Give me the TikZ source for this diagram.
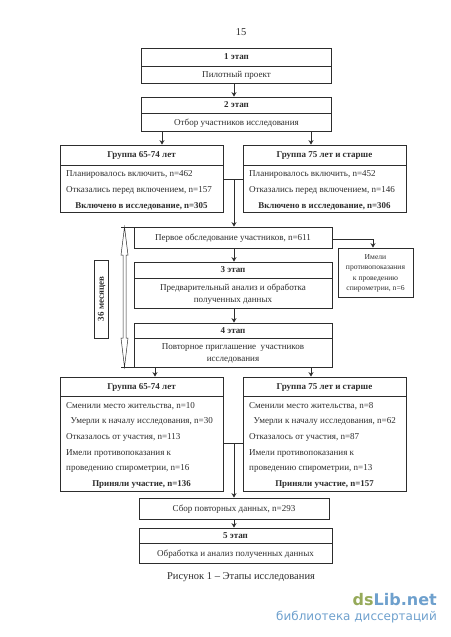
\documentclass[tikz,border=0pt]{standalone}
\usepackage{fontspec}
\setmainfont{Liberation Serif}
\newfontfamily\marksans{DejaVu Sans}
\usepackage{tikz}
\usetikzlibrary{arrows.meta}
\definecolor{ink}{RGB}{45,45,45}
\definecolor{markgreen}{RGB}{150,170,90}
\definecolor{markblue}{RGB}{110,160,205}
\tikzset{
  box/.style={draw=ink,line width=0.8pt,align=center,font=\fontsize{9.05}{12}\selectfont,text=ink,text depth=0pt,inner sep=1pt},
  hdr/.style={box,font=\fontsize{9}{10}\selectfont\bfseries},
  note/.style={box,font=\fontsize{7.6}{10.4}\selectfont},
  rowl/.style={font=\fontsize{9.05}{10}\selectfont,text=ink,anchor=west,inner sep=0pt,yshift=-1.5pt},
  rowb/.style={font=\fontsize{8.9}{10}\selectfont\bfseries,text=ink,inner sep=0pt,yshift=-1.5pt},
  arr/.style={-{Stealth[length=4.5pt,width=5pt]},line width=0.8pt,draw=ink},
  conn/.style={line width=0.8pt,draw=ink},
  hollow/.style={draw=ink,line width=0.5pt,fill=white}
}
\begin{document}
\begin{tikzpicture}[x=1pt,y=-1pt]
\useasboundingbox (0,0) rectangle (450,637);
\node[font=\fontsize{10.5}{12}\selectfont,text=ink,inner sep=0pt] (page) at (241,32) {15};
% stages 1 and 2
\node[hdr,minimum width=190pt,minimum height=18pt] (s1h) at (236.5,57) {1 этап};
\node[box,minimum width=190pt,minimum height=17pt] (s1b) at (236.5,74.5) {Пилотный проект};
\node[hdr,minimum width=190pt,minimum height=16pt] (s2h) at (236.5,105) {2 этап};
\node[box,minimum width=190pt,minimum height=18pt] (s2b) at (236.5,122) {Отбор участников исследования};
\draw[arr] (234,0 |- s1b.south) -- (234,0 |- s2h.north);
% groups at the start
\node[hdr,minimum width=163pt,minimum height=20pt] (g1h) at (141.5,155) {Группа 65-74 лет};
\node[box,minimum width=163pt,minimum height=47pt] (g1b) at (141.5,188.5) {};
\node[hdr,minimum width=163pt,minimum height=20pt] (g2h) at (324.5,155) {Группа 75 лет и старше};
\node[box,minimum width=163pt,minimum height=47pt] (g2b) at (324.5,188.5) {};
\node[rowl] (g1a) at (66,173) {Планировалось включить, n=462};
\node[rowl] (g1c) at (66,188.5) {Отказались перед включением, n=157};
\node[rowb] (g1d) at (141.5,205) {Включено в исследование, n=305};
\node[rowl] (g2a) at (249,173) {Планировалось включить, n=452};
\node[rowl] (g2c) at (249,188.5) {Отказались перед включением, n=146};
\node[rowb] (g2d) at (324.5,205) {Включено в исследование, n=306};
\draw[arr] (162,0 |- s2b.south) -- (162,0 |- g1h.north);
\draw[arr] (311,0 |- s2b.south) -- (311,0 |- g2h.north);
% first examination
\node[box,minimum width=198pt,minimum height=21pt] (first) at (233,237.5) {Первое обследование участников, n=611};
\node[note,minimum width=75pt,minimum height=49pt] (contra) at (375.5,272.5) {Имели\\противопоказания\\к проведению\\спирометрии, n=6};
\coordinate (j1) at (234,179);
\draw[conn] (g1b.east |- j1) -- (g2b.west |- j1);
\draw[arr] (j1) -- (j1 |- first.north);
\draw[arr] (first.east |- 0,239) -| (373,0 |- contra.north);
% stages 3 and 4
\node[hdr,minimum width=198pt,minimum height=16pt] (s3h) at (233,270) {3 этап};
\node[box,minimum width=198pt,minimum height=30pt] (s3b) at (233,293) {Предварительный анализ и обработка\\полученных данных};
\node[hdr,minimum width=198pt,minimum height=15pt] (s4h) at (233,330.5) {4 этап};
\node[box,minimum width=198pt,minimum height=29pt] (s4b) at (233,352.5) {Повторное приглашение~ участников\\исследования};
\draw[arr] (234,0 |- first.south) -- (234,0 |- s3h.north);
\draw[arr] (234,0 |- s3b.south) -- (234,0 |- s4h.north);
% 36 months
\node[hdr,rotate=90,minimum width=78pt,minimum height=14pt] (months) at (101,299) {36 месяцев};
\draw[hollow] (124.5,227) -- (121,255) -- (123,255) -- (123,338) -- (121,338) -- (124.5,367) -- (128,338) -- (126,338) -- (126,255) -- (128,255) -- cycle;
\coordinate (spant) at (121,227);
\coordinate (spanb) at (121,367);
\draw[conn] (spant) -- (spant -| first.west);
\draw[conn] (spanb) -- (spanb -| s4b.west);
% groups at the end
\node[hdr,minimum width=163pt,minimum height=19pt] (g3h) at (141.5,386.5) {Группа 65-74 лет};
\node[box,minimum width=163pt,minimum height=95pt] (g3b) at (141.5,443.5) {};
\node[hdr,minimum width=163pt,minimum height=19pt] (g4h) at (324.5,386.5) {Группа 75 лет и старше};
\node[box,minimum width=163pt,minimum height=95pt] (g4b) at (324.5,443.5) {};
\node[rowl] (g3a) at (66,405) {Сменили место жительства, n=10};
\node[rowl] (g3c) at (70.5,420) {Умерли к началу исследования, n=30};
\node[rowl] (g3d) at (66,436) {Отказалось от участия, n=113};
\node[rowl] (g3e) at (66,452) {Имели противопоказания к};
\node[rowl] (g3f) at (66,467) {проведению спирометрии, n=16};
\node[rowb] (g3g) at (141.5,483) {Приняли участие, n=136};
\node[rowl] (g4a) at (249,405) {Сменили место жительства, n=8};
\node[rowl] (g4c) at (253.5,420) {Умерли к началу исследования, n=62};
\node[rowl] (g4d) at (249,436) {Отказалось от участия, n=87};
\node[rowl] (g4e) at (249,452) {Имели противопоказания к};
\node[rowl] (g4f) at (249,467) {проведению спирометрии, n=13};
\node[rowb] (g4g) at (324.5,483) {Приняли участие, n=157};
\draw[arr] (155,0 |- s4b.south) -- (155,0 |- g3h.north);
\draw[arr] (311,0 |- s4b.south) -- (311,0 |- g4h.north);
% collection and stage 5
\node[box,minimum width=190pt,minimum height=21pt] (coll) at (234,508.5) {Сбор повторных данных, n=293};
\node[hdr,minimum width=193pt,minimum height=15pt] (s5h) at (235.5,535.5) {5 этап};
\node[box,minimum width=193pt,minimum height=20pt] (s5b) at (235.5,553) {Обработка и анализ полученных данных};
\coordinate (j2) at (234,443);
\draw[conn] (g3b.east |- j2) -- (g4b.west |- j2);
\draw[arr] (j2) -- (j2 |- coll.north);
\draw[arr] (234,0 |- coll.south) -- (234,0 |- s5h.north);
\node[font=\fontsize{10.5}{12}\selectfont,text=ink,inner sep=0pt] (caption) at (241,577) {Рисунок 1 – Этапы исследования};
% site mark
\node[font=\marksans\fontsize{16}{18}\selectfont\bfseries,inner sep=0pt,anchor=east] (mark) at (437,600) {\textcolor{markgreen}{ds}\textcolor{markblue}{Lib.net}};
\node[font=\marksans\fontsize{12}{14}\selectfont,text=markblue,inner sep=0pt,anchor=east] (markb) at (437,617) {библиотека диссертаций};
\end{tikzpicture}
\end{document}
